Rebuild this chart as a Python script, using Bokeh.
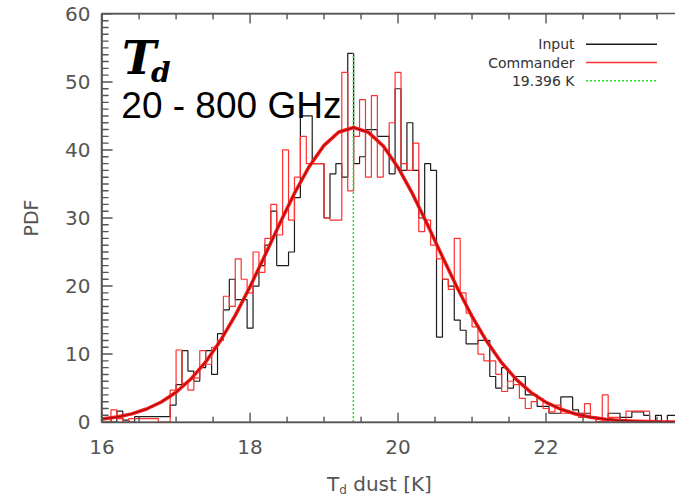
import numpy as np
from bokeh.plotting import figure
from bokeh.models import Range1d, LinearAxis, FixedTicker, Label, Div
from bokeh.layouts import column
from bokeh.embed import file_html
from bokeh.resources import INLINE

# ---------------- data ----------------
bin_start = 16.0      # centre of first bin [K]
bin_width = 0.08      # [K]

input_pdf = [0.6, 0.6, 0, 1.6, 0.3, 0, 0.8, 0.8, 0.8, 0.8,
             0.8, 0.8, 2.5, 5.5, 10.5, 7.5, 6.0, 8.0, 10.5, 7.0,
             13.0, 16.5, 21.0, 18.0, 18.0, 13.8, 20.0, 23.0, 26.0, 31.0,
             23.0, 23.0, 25.0, 33.0, 45.0, 45.0, 38.0, 38.0, 30.0, 36.5,
             38.0, 36.0, 54.2, 38.0, 39.0, 43.0, 43.0, 42.0, 42.0, 36.5,
             49.0, 37.0, 44.0, 37.0, 30.0, 38.0, 37.0, 12.5, 21.0, 20.0,
             15.0, 13.5, 11.5, 11.5, 12.0, 12.0, 6.7, 5.0, 8.0, 5.0,
             6.7, 6.7, 4.0, 4.0, 2.3, 2.3, 1.3, 1.3, 3.7, 3.7,
             1.8, 1.3, 1.3, 0.7, 0, 0, 1.3, 1.3, 0.7, 0.7,
             1.5, 1.5, 1.0, 0, 1.0, 0, 1.0, 1.0]

commander_pdf = [0, 0, 1.8, 0.5, 0, 0.5, 0.5, 0.5, 0.5, 0.5,
                 0, 0, 4.7, 10.6, 5.7, 4.7, 6.5, 10.5, 8.5, 11.0,
                 12.0, 18.5, 17.0, 24.0, 21.0, 19.0, 25.0, 22.0, 27.0, 32.0,
                 27.5, 40.0, 29.7, 36.0, 42.0, 38.0, 38.0, 38.0, 30.0, 29.7,
                 29.7, 51.4, 34.0, 42.0, 47.4, 36.0, 48.0, 36.0, 40.0, 44.0,
                 51.4, 38.0, 37.0, 41.0, 28.0, 29.7, 26.0, 24.0, 21.0, 19.5,
                 27.0, 19.0, 16.0, 14.0, 10.0, 9.0, 9.0, 7.0, 4.5, 6.0,
                 5.5, 3.5, 2.0, 3.0, 3.5, 2.0, 1.5, 2.5, 1.3, 1.3,
                 1.3, 0.7, 2.7, 0.7, 0, 4.0, 0.7, 0.7, 0, 1.6,
                 1.6, 1.6, 1.6, 0, 0, 0, 0, 0]

fit_t = [16.0, 16.2, 16.4, 16.6, 16.8, 17.0, 17.2, 17.4, 17.6, 17.8,
         18.0, 18.2, 18.4, 18.6, 18.8, 19.0, 19.2, 19.4, 19.6, 19.8,
         20.0, 20.2, 20.4, 20.6, 20.8, 21.0, 21.2, 21.4, 21.6, 21.8,
         22.0, 22.2, 22.4, 22.6, 22.8, 23.0, 23.2, 23.4, 23.6, 23.8]
fit_pdf = [0.44, 0.74, 1.21, 1.92, 2.95, 4.39, 6.33, 8.85, 11.97, 15.69,
           19.91, 24.49, 29.16, 33.64, 37.58, 40.68, 42.64, 43.30, 42.59, 40.57,
           37.44, 33.46, 28.97, 24.30, 19.74, 15.53, 11.83, 8.73, 6.25, 4.33,
           2.90, 1.89, 1.19, 0.72, 0.43, 0.24, 0.14, 0.07, 0.03, 0.01]

median_t = 19.396
x_ticks = [16, 18, 20, 22]
x_minor = [16.5, 17, 17.5, 18.5, 19, 19.5, 20.5, 21, 21.5, 22.5, 23, 23.5]
y_ticks = [0, 10, 20, 30, 40, 50, 60]
legend_labels = ["Input", "Commander", "19.396 K"]

# ---------------- figure ----------------
X0, X1, Y0, Y1 = 16.0, 23.75, 0.0, 60.0
centers = bin_start + bin_width * np.arange(len(input_pdf))

p = figure(width=675, height=470,
           x_range=Range1d(X0 - 0.008, X1), y_range=Range1d(Y0 - 0.06, Y1 + 0.06),
           output_backend="svg", toolbar_location=None,
           min_border_left=101, min_border_right=0, min_border_top=13, min_border_bottom=48)
p.outline_line_color = None
p.xgrid.visible = False
p.ygrid.visible = False
p.background_fill_color = "white"
p.border_fill_color = "white"

AX = "#555555"
LBL = "#555555"

def style_axis(ax):
    ax.axis_line_color = AX
    ax.axis_line_width = 1.5
    ax.major_tick_line_color = None
    ax.minor_tick_line_color = None
    ax.major_tick_in = 0
    ax.major_tick_out = 0
    ax.minor_tick_in = 0
    ax.minor_tick_out = 0
    ax.major_label_text_color = LBL
    ax.major_label_text_font = "DejaVu Sans"
    ax.major_label_text_font_size = "20px"

xa = p.xaxis[0]
xa.ticker = FixedTicker(ticks=x_ticks)
style_axis(xa)
xa.major_label_standoff = 17

ya = p.yaxis[0]
ya.ticker = FixedTicker(ticks=y_ticks)
style_axis(ya)
ya.major_label_standoff = 11
ya.axis_label = "PDF"
ya.axis_label_text_font = "DejaVu Sans"
ya.axis_label_text_font_size = "19px"
ya.axis_label_text_font_style = "normal"
ya.axis_label_text_color = LBL
ya.axis_label_standoff = 20

top = LinearAxis(ticker=FixedTicker(ticks=[]))
style_axis(top)
p.add_layout(top, "above")

# ---------------- histograms and fit ----------------
p.step(centers, input_pdf, mode="center", line_color="#1c1c1c", line_width=1.2)
p.step(centers, commander_pdf, mode="center", line_color="#ff3030", line_width=1.2)

p.line([median_t, median_t], [0.0, max(input_pdf)],
       line_color="#22dd22", line_width=1.5, line_dash="2 2")

p.line(fit_t, fit_pdf, line_color="#ff1a1a", line_width=3.5, line_join="round")
p.line(fit_t, fit_pdf, line_color="#000000", line_width=0.8, line_alpha=0.6, line_join="round")

# ---------------- inward tick marks (IDL style) as continuous "comb" paths ----------------
px_per_x = 74.0
px_per_y = 6.8
x_all = sorted(x_ticks + x_minor)
y_all = list(range(Y0.__int__(), Y1.__int__() + 1))

def comb_x(at_top):
    base = Y1 if at_top else Y0
    sgn = -1 if at_top else 1
    cx, cy = [], []
    for v in x_all:
        L = (9 if v in x_ticks else 5) / px_per_y
        cx += [float(v), float(v), float(v)]
        cy += [base, base + sgn * L, base]
    p.line(cx, cy, line_color=AX, line_width=1.4, line_join="round")

def comb_y():
    cx, cy = [], []
    for v in y_all:
        L = (10 if v in y_ticks else 6) / px_per_x
        cx += [X0, X0 + L, X0]
        cy += [float(v), float(v), float(v)]
    p.line(cx, cy, line_color=AX, line_width=1.4, line_join="round")

comb_x(False)
comb_x(True)
comb_y()

# ---------------- texts ----------------
p.add_layout(Label(x=16.27, y=53.5, text="T", text_font="DejaVu Serif",
                   text_font_style="bold italic", text_font_size="46px",
                   text_color="black", text_baseline="middle"))
p.add_layout(Label(x=16.66, y=51.4, text="d", text_font="DejaVu Serif",
                   text_font_style="bold italic", text_font_size="28px",
                   text_color="black", text_baseline="middle"))
p.add_layout(Label(x=16.26, y=46.5, text="20 - 800 GHz", text_font="Liberation Sans",
                   text_font_size="37px", text_color="black", text_baseline="middle"))

# legend (text left of the line sample)
leg_y = [55.55, 52.85, 50.17]
leg_col = ["#1c1c1c", "#ff3030", "#22dd22"]
leg_dash = ["solid", "solid", "2 2"]
for lab, yy, c, d in zip(legend_labels, leg_y, leg_col, leg_dash):
    p.add_layout(Label(x=22.385, y=yy, text=lab, text_font="DejaVu Sans",
                       text_font_size="14px", text_color="#333333",
                       text_align="right", text_baseline="middle"))
    p.line([22.54, 23.50], [yy, yy], line_color=c, line_width=1.5, line_dash=d)

# x-axis title with subscript (HTML text under the plot)
xlabel = Div(text='T<sub style="font-size:12px;vertical-align:-3px;line-height:0">d</sub> dust [K]',
             width=675, height=26,
             styles={"font-family": "DejaVu Sans", "font-size": "20px", "color": LBL,
                     "padding-left": "322px", "line-height": "18px", "white-space": "nowrap",
                     "overflow": "visible"})

layout = column(p, xlabel, spacing=0)
open("out.html", "w").write(file_html(layout, INLINE))
